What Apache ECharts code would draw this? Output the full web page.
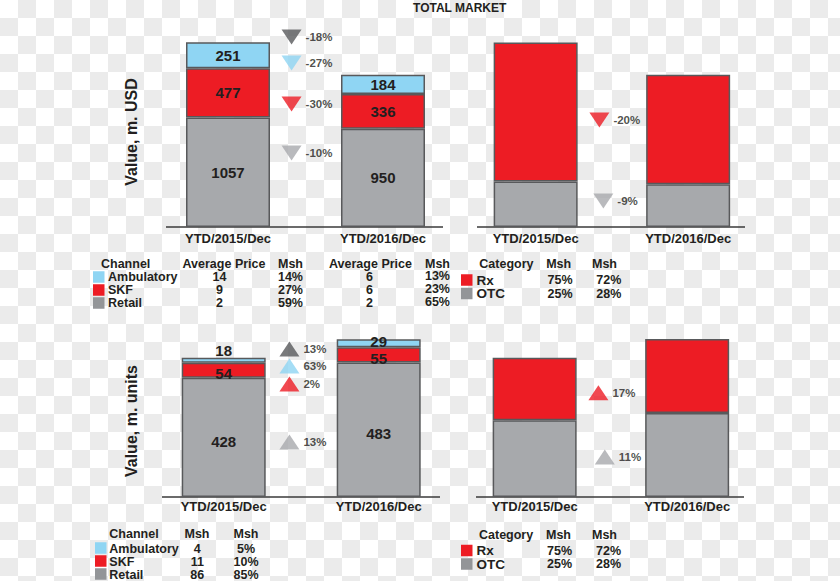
<!DOCTYPE html>
<html><head><meta charset="utf-8">
<script src="https://cdn.jsdelivr.net/npm/echarts@6/dist/echarts.min.js"></script>
<style>
html,body{margin:0;padding:0;}
body{width:840px;height:581px;overflow:hidden;background:repeating-conic-gradient(#ebebeb 0 25%, #fff 0 50%) 0 0/36px 36px;}
#chart{width:840px;height:581px;}
</style></head><body><div id="chart"></div>
<script>
// ---------------- DATA ----------------
const categories = ['YTD/2015/Dec', 'YTD/2016/Dec'];
// Value, m. USD by channel
const usdRetail = [1057, 950];
const usdSkf = [477, 336];
const usdAmbulatory = [251, 184];
// Value, m. USD by category
const usdOtc = [440, 414];
const usdRx = [1342, 1056];
// Value, m. units by channel
const unitsRetail = [428, 483];
const unitsSkf = [54, 55];
const unitsAmbulatory = [18, 29];
// Value, m. units by category
const unitsOtc = [276, 302];
const unitsRx = [224, 266];
// change 2016 vs 2015, % (Total, Ambulatory, SKF, Retail)
const usdChannelChange = [-18, -27, -30, -10];
const unitsChannelChange = [13, 63, 2, 13];
// change, % (Rx, OTC)
const usdCategoryChange = [-20, -9];
const unitsCategoryChange = [17, 11];
// tables
const channels = ['Ambulatory', 'SKF', 'Retail'];
const avgPrice2015 = [14, 9, 2];
const avgPrice2016 = [6, 6, 2];
const mshUsdChannel2015 = [14, 27, 59];
const mshUsdChannel2016 = [13, 23, 65];
const mshUnitsChannel2015 = [4, 11, 86];
const mshUnitsChannel2016 = [5, 10, 85];
const rxOtc = ['Rx', 'OTC'];
const mshUsdCat2015 = [75, 25];
const mshUsdCat2016 = [72, 28];
const mshUnitsCat2015 = [75, 25];
const mshUnitsCat2016 = [72, 28];

// ---------------- STYLE / LAYOUT ----------------
const FONT = "'Liberation Sans', Arial, Helvetica, sans-serif";
const TXT = '#231f20';
const C_BLUE = '#8fd5f3', C_RED = '#ed1c24', C_GRAY = '#a7a9ac', C_DARK = '#58595b', C_SQ_GRAY = '#939598';
const BORDER = '#58595b';
const DOWN = 'path://M0,0L20,0L10,15Z';
const UP = 'path://M10,0L20,15L0,15Z';
// annotation placement [xFraction, yValue]
const annUsdChannelPos = [[0.455, 1836], [0.455, 1584], [0.455, 1188], [0.455, 715]];
const annUsdCatPos = [[0.459, 1034], [0.472, 251]];
const annUnitsChannelPos = [[0.462, 532], [0.462, 471], [0.462, 406], [0.462, 198]];
const annUnitsCatPos = [[0.459, 375], [0.48, 144]];

const grids = [
  {left: 150.5, top: 20, width: 310, height: 207},
  {left: 459.4, top: 20, width: 305, height: 207},
  {left: 146.2, top: 330, width: 310, height: 167},
  {left: 458.4, top: 330, width: 305, height: 167}
];
const yMax = [2000, 2000, 600, 600];

const xAxis = [], yAxis = [];
grids.forEach((g, i) => {
  xAxis.push({type: 'category', gridIndex: i, data: categories, position: 'bottom',
    axisLine: {show: false}, axisTick: {show: false}, splitLine: {show: false},
    axisLabel: {margin: i < 2 ? 5 : 3, fontFamily: FONT, fontWeight: 'bold', fontSize: 13, color: TXT}});
  yAxis.push({type: 'value', gridIndex: i, min: 0, max: yMax[i], show: false, splitLine: {show: false}});
});
grids.forEach((g, i) => {
  xAxis.push({type: 'value', gridIndex: i, min: 0, max: 1, show: false, position: 'top', splitLine: {show: false}});
});

const barLabel = {show: true, position: 'inside', fontFamily: FONT, fontWeight: 'bold', fontSize: 15, color: TXT};
function bar(name, data, gi, color, label, dataOverride) {
  return {
    type: 'bar', name, stack: 's' + gi, xAxisIndex: gi, yAxisIndex: gi, barWidth: 84,
    data: dataOverride || data,
    itemStyle: {color, borderColor: BORDER, borderWidth: 1.5},
    label: label ? Object.assign({}, barLabel, label === true ? {} : label) : {show: false},
    silent: true
  };
}
function ann(changes, pos, colors, gi) {
  return {
    type: 'scatter', xAxisIndex: 4 + gi, yAxisIndex: gi, silent: true, z: 5,
    data: changes.map((c, k) => ({
      value: pos[k], symbol: c < 0 ? DOWN : UP, symbolSize: [20, 15],
      itemStyle: {color: colors[k]},
      label: {show: true, position: 'right', distance: 4, formatter: c + '%',
        fontFamily: FONT, fontWeight: 'bold', fontSize: 11.5, color: TXT}
    }))
  };
}

const series = [
  bar('Retail', usdRetail, 0, C_GRAY, true),
  bar('SKF', usdSkf, 0, C_RED, true),
  bar('Ambulatory', usdAmbulatory, 0, C_BLUE, true),
  bar('OTC', usdOtc, 1, C_GRAY, false),
  bar('Rx', usdRx, 1, C_RED, false),
  bar('Retail', unitsRetail, 2, C_GRAY, {offset: [0, 4]}),
  bar('SKF', unitsSkf, 2, C_RED, {offset: [0, 3.5]}),
  bar('Ambulatory', unitsAmbulatory, 2, C_BLUE, true,
    unitsAmbulatory.map((v, k) => ({value: v,
      label: k === 0 ? {position: 'top', distance: 0} : {position: 'inside', offset: [0, -1.5]}}))),
  bar('OTC', unitsOtc, 3, C_GRAY, false),
  bar('Rx', unitsRx, 3, C_RED, false),
  ann(usdChannelChange, annUsdChannelPos, [C_DARK, C_BLUE, C_RED, C_GRAY], 0),
  ann(usdCategoryChange, annUsdCatPos, [C_RED, C_GRAY], 1),
  ann(unitsChannelChange, annUnitsChannelPos, [C_DARK, C_BLUE, C_RED, C_GRAY], 2),
  ann(unitsCategoryChange, annUnitsCatPos, [C_RED, C_GRAY], 3)
];

// ---------------- GRAPHIC (title, axis names, baselines, tables) ----------------
const graphic = [];
function txt(text, x, y, align, size, extra) {
  graphic.push(Object.assign({type: 'text', x, y, silent: true,
    style: {text: String(text), fill: TXT, font: 'bold ' + (size || 12.5) + 'px ' + FONT,
      textAlign: align || 'left', textVerticalAlign: 'middle'}}, extra || {}));
}
function sq(x, yc, color) {
  graphic.push({type: 'rect', silent: true, shape: {x, y: yc - 5.75, width: 11.5, height: 11.5}, style: {fill: color}});
}
function baseline(x1, x2, y) {
  graphic.push({type: 'line', silent: true, shape: {x1, y1: y, x2, y2: y}, style: {stroke: '#3a3a3a', lineWidth: 1.5}});
}
txt('TOTAL MARKET', 459.7, 7.5, 'center', 12);
txt('Value, m. USD', 131, 132, 'center', 16, {rotation: Math.PI / 2});
txt('Value, m. units', 131, 421, 'center', 16, {rotation: Math.PI / 2});
baseline(166, 443, 227); baseline(477, 745, 227); baseline(162, 440, 497); baseline(476, 744, 497);

const chColors = [C_BLUE, C_RED, C_SQ_GRAY];
const catColors = [C_RED, C_SQ_GRAY];
// top-left table
txt('Channel', 101, 263.5, 'left');
txt('Average Price', 224, 263.5, 'center');
txt('Msh', 303, 263.5, 'right');
txt('Average Price', 370.5, 263.5, 'center');
txt('Msh', 450, 263.5, 'right');
channels.forEach((c, k) => {
  const y = 277 + k * 13;
  sq(93, y, chColors[k]);
  txt(c, 108, y, 'left');
  txt(avgPrice2015[k], 219.5, y, 'center');
  txt(mshUsdChannel2015[k] + '%', 303, y, 'right');
  txt(avgPrice2016[k], 369.5, y, 'center');
  txt(mshUsdChannel2016[k] + '%', 450, y - 0.8, 'right');
});
// top-right table
txt('Category', 479.3, 264, 'left');
txt('Msh', 558.7, 264, 'center');
txt('Msh', 604.5, 264, 'center');
rxOtc.forEach((c, k) => {
  const y = 280 + k * 13.5;
  sq(461, y, catColors[k]);
  txt(c, 476.5, y, 'left', 13.5);
  txt(mshUsdCat2015[k] + '%', 560, y, 'center');
  txt(mshUsdCat2016[k] + '%', 608.8, y, 'center');
});
// bottom-left table
txt('Channel', 109.3, 534, 'left');
txt('Msh', 197, 534, 'center');
txt('Msh', 246, 534, 'center');
channels.forEach((c, k) => {
  const y = 549 + k * 13;
  sq(95, y - 1, chColors[k]);
  txt(c, 109.3, y, 'left');
  txt(mshUnitsChannel2015[k], 197.3, y, 'center');
  txt(mshUnitsChannel2016[k] + '%', 246, y, 'center');
});
// bottom-right table
txt('Category', 479, 535, 'left');
txt('Msh', 558.5, 535, 'center');
txt('Msh', 604.5, 535, 'center');
rxOtc.forEach((c, k) => {
  const y = 550.5 + k * 13.5;
  sq(461, y, catColors[k]);
  txt(c, 476.5, y, 'left', 13.5);
  txt(mshUnitsCat2015[k] + '%', 559.5, y, 'center');
  txt(mshUnitsCat2016[k] + '%', 608.5, y, 'center');
});

const chart = echarts.init(document.getElementById('chart'), null, {renderer: 'svg', width: 840, height: 581});
chart.setOption({
  backgroundColor: 'transparent',
  animation: false,
  grid: grids.map(g => Object.assign({containLabel: false}, g)),
  xAxis, yAxis, series, graphic
});
</script></body></html>
